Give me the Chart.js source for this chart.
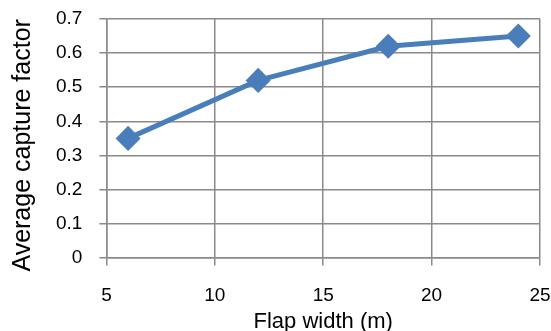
<!DOCTYPE html>
<html><head><meta charset="utf-8">
<script src="https://cdn.jsdelivr.net/npm/chart.js@4"></script>
<style>html,body{margin:0;padding:0;background:#fff}#w{width:551px;height:331px}</style>
</head><body><div id="w"><canvas id="c" width="551" height="331"></canvas></div>
<script>
const flapWidth = [6, 12, 18, 24];
const captureFactor = [0.35, 0.52, 0.62, 0.65];
const xTitle = "Flap width (m)";
const yTitle = "Average capture factor";
const font = "'Liberation Sans', Arial, sans-serif";
const gridColor = '#8a8a8a';
new Chart(document.getElementById('c'), {
  type: 'line',
  data: { datasets: [{
    data: flapWidth.map((x, i) => ({x, y: captureFactor[i]})),
    borderColor: '#4a7ebb', backgroundColor: '#4a7ebb',
    borderWidth: 5, pointStyle: 'rectRot', pointRadius: 9, pointHoverRadius: 9,
    tension: 0, fill: false, clip: false
  }]},
  options: {
    responsive: false, animation: false, devicePixelRatio: 1,
    layout: { autoPadding: false, padding: { top: 19, right: 11, left: 8, bottom: 0 } },
    plugins: { legend: { display: false }, tooltip: { enabled: false } },
    scales: {
      x: { type: 'linear', min: 5, max: 25,
        ticks: { stepSize: 5, color: '#000', font: { family: font, size: 19 }, padding: 0, maxRotation: 0 },
        grid: { color: gridColor, lineWidth: 1.5, tickLength: 27, tickBorderDash: [7, 1000] },
        border: { color: gridColor, width: 1.5 },
        title: { display: true, text: xTitle, color: '#000', font: { family: font, size: 22 }, padding: { top: 1, bottom: -4 } } },
      y: { min: 0, max: 0.7,
        ticks: { stepSize: 0.1, color: '#000', font: { family: font, size: 19 }, padding: 0,
          callback: v => Math.round(v * 10) / 10 },
        grid: { color: gridColor, lineWidth: 1.5, tickLength: 24, tickBorderDash: [0, 17, 7, 1000] },
        border: { color: gridColor, width: 1.5 },
        title: { display: true, text: yTitle + '\u00a0\u00a0', color: '#000', font: { family: font, size: 25 }, padding: { top: 0, bottom: 18 } } }
    }
  }
});
</script></body></html>
